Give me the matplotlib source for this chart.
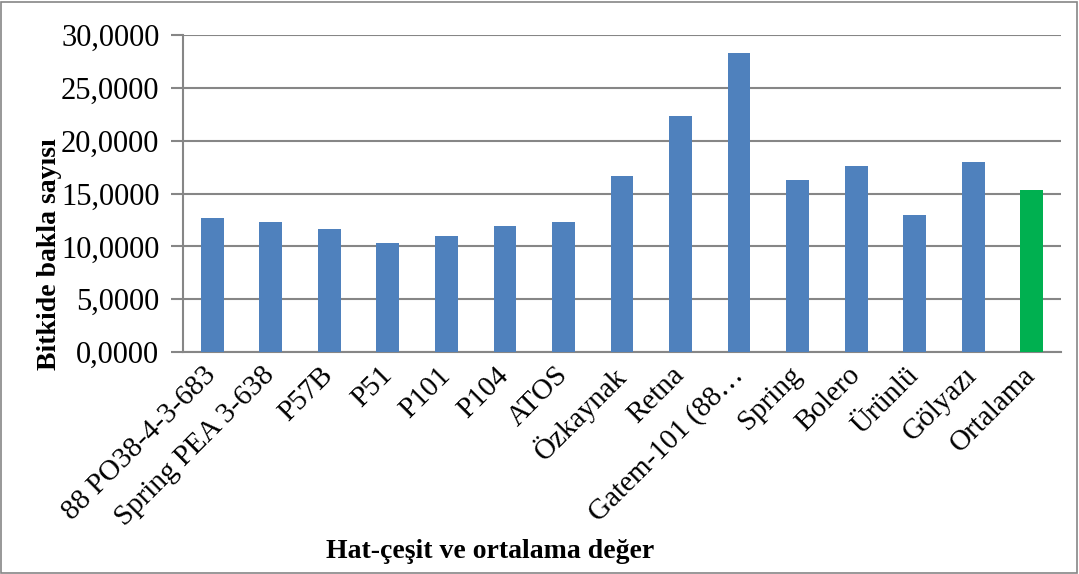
import matplotlib.pyplot as plt
from matplotlib.ticker import FuncFormatter
from matplotlib.patches import Rectangle

categories = ["88 PO38-4-3-683", "Spring PEA 3-638", "P57B", "P51", "P101", "P104",
              "ATOS", "Özkaynak", "Retna", "Gatem-101 (88…", "Spring", "Bolero",
              "Ürünlü", "Gölyazı", "Ortalama"]
values = [12.64, 12.29, 11.62, 10.33, 10.96, 11.94, 12.29, 16.61, 22.30, 28.30,
          16.27, 17.62, 12.95, 17.94, 15.32]
colors = ["#4F81BD"] * 14 + ["#00B050"]

plt.rcParams['font.family'] = ['Liberation Serif', 'DejaVu Serif']

fig = plt.figure(figsize=(10.79, 5.74), dpi=100)
ax = fig.add_axes([183 / 1079, 1 - 352 / 574, 878 / 1079, 317 / 574])

x = range(len(categories))
ax.bar(x, values, width=0.39, color=colors, zorder=3)

ax.set_ylim(0, 30)
ax.set_xlim(-0.5, len(categories) - 0.5)
ax.set_yticks([0, 5, 10, 15, 20, 25, 30])
ax.yaxis.set_major_formatter(FuncFormatter(lambda v, p: f"{v:.4f}".replace(".", ",")))
ax.grid(axis='y', color='#868686', linewidth=1.5, zorder=0)

for s in ['top', 'right']:
    ax.spines[s].set_visible(False)
ax.spines['left'].set_color('#868686')
ax.spines['left'].set_linewidth(1.5)
ax.spines['bottom'].set_color('#868686')
ax.spines['bottom'].set_linewidth(1.5)

ax.tick_params(axis='y', length=9, width=1.5, color='#868686', labelsize=22, pad=8)
ax.tick_params(axis='x', length=0, labelsize=21, pad=14)
ax.set_xticks(list(x))
ax.set_xticklabels(categories, rotation=45, ha='right', va='center', rotation_mode='anchor')

fig.text(50 / 1079, 1 - 254 / 574, "Bitkide bakla sayısı", rotation=90,
         ha='center', va='center', fontsize=20, fontweight='bold')
fig.text(490 / 1079, 1 - 552 / 574, "Hat-çeşit ve ortalama değer",
         ha='center', va='center', fontsize=20, fontweight='bold')

fig.patches.append(Rectangle((0.001, 0.002), 0.997, 0.995, transform=fig.transFigure,
                             fill=False, edgecolor='#868686', linewidth=1.2))

fig.savefig("out.png", dpi=100)
